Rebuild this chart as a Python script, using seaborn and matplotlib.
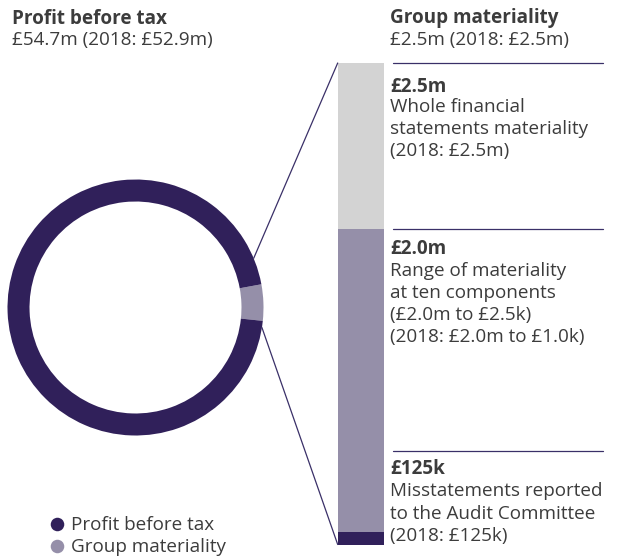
import numpy as np
import pandas as pd
import matplotlib
matplotlib.use("Agg")
import matplotlib.pyplot as plt
import seaborn as sns

# ---------------- data ----------------
donut_labels = ["Profit before tax", "Group materiality"]
profit_before_tax = 54.7   # £m
group_materiality = 2.5    # £m
donut_values = [profit_before_tax - group_materiality, group_materiality]

# stacked bar segments (bottom -> top), visual shares
bar_segments = ["£125k", "£2.0m", "£2.5m"]
bar_heights = [12, 303, 166]

titles = ["Profit before tax", "Group materiality"]
subtitles = ["£54.7m (2018: £52.9m)", "£2.5m (2018: £2.5m)"]

note_heads = ["£2.5m", "£2.0m", "£125k"]
note_bodies = [
    ["Whole financial", "statements materiality", "(2018: £2.5m)"],
    ["Range of materiality", "at ten components", "(£2.0m to £2.5k)", "(2018: £2.0m to £1.0k)"],
    ["Misstatements reported", "to the Audit Committee", "(2018: £125k)"],
]

# ---------------- style ----------------
DARK = "#30205a"
MID = "#958fa9"
LIGHT = "#d3d3d3"
LINE = "#3a3068"
TEXT = "#3c3c3c"

sns.set_theme(style="white")
plt.rcParams["font.family"] = ["Open Sans", "DejaVu Sans"]

W, H = 618, 556
fig = plt.figure(figsize=(W / 100, H / 100), dpi=100)

def px_axes(x0, y0, x1, y1):
    return fig.add_axes([x0 / W, 1 - y1 / H, (x1 - x0) / W, (y1 - y0) / H])

# donut
cx, cy, R = 135.5, 307.5, 128.0
ax_pie = px_axes(cx - R, cy - R, cx + R, cy + R)
ax_pie.pie(
    donut_values[::-1],
    colors=[MID, DARK],
    startangle=-6.0,
    counterclock=True,
    radius=1.0,
    wedgeprops=dict(width=0.172, linewidth=0),
)
ax_pie.set_xlim(-1, 1)
ax_pie.set_ylim(-1, 1)
ax_pie.set_aspect("equal")
ax_pie.axis("off")

# stacked bar
bx0, bx1, by0, by1 = 337.7, 384.0, 63.0, 544.5
ax_bar = px_axes(bx0, by0, bx1, by1)
cum = np.cumsum(bar_heights)
for top, col in zip(cum[::-1], [LIGHT, MID, DARK]):
    sns.barplot(x=["bar"], y=[top], color=col, width=1.0, ax=ax_bar,
                saturation=1, linewidth=0)
ax_bar.set_xlim(-0.5, 0.5)
ax_bar.set_ylim(0, cum[-1])
ax_bar.axis("off")

# overlay for text and connectors
ax = fig.add_axes([0, 0, 1, 1])
ax.set_xlim(0, W)
ax.set_ylim(H, 0)
ax.axis("off")

def ring_point(angle_deg):
    a = np.deg2rad(angle_deg)
    return cx + R * np.cos(a), cy - R * np.sin(a)

p_up = ring_point(22.6)
p_dn = ring_point(-9.0)
ax.plot([p_up[0], bx0], [p_up[1], by0], color=LINE, lw=0.9)
ax.plot([p_dn[0], bx0], [p_dn[1], by1], color=LINE, lw=0.9)

# titles
fs = 13.6
ax.text(12, 23.5, titles[0], fontsize=fs, fontweight="bold", color=TEXT, va="baseline")
ax.text(12, 45.5, subtitles[0], fontsize=fs, color=TEXT, va="baseline")
ax.text(390.5, 23.5, titles[1], fontsize=fs, fontweight="bold", color=TEXT, va="baseline")
ax.text(390.5, 45.5, subtitles[1], fontsize=fs, color=TEXT, va="baseline")

# notes
note_tops = [63, 229, 451]
head_off = [28.5, 24.5, 23.5]
body_off = [48.5, 46.5, 45.5]
for top, ho, bo, head, body in zip(note_tops, head_off, body_off, note_heads, note_bodies):
    ax.plot([393, 603], [top, top], color=LINE, lw=0.9)
    ax.text(390.5, top + ho, head, fontsize=fs, fontweight="bold", color=TEXT, va="baseline")
    for i, line in enumerate(body):
        ax.text(390.5, top + bo + 22.2 * i, line, fontsize=fs, color=TEXT, va="baseline")

# legend
for i, (lab, col) in enumerate(zip(donut_labels, [DARK, MID])):
    y = 524 + 22 * i
    ax.scatter([57], [y], s=95, color=col, linewidths=0)
    ax.text(71, y + 5.5, lab, fontsize=fs, color=TEXT, va="baseline")

fig.savefig("out.png", dpi=100)
